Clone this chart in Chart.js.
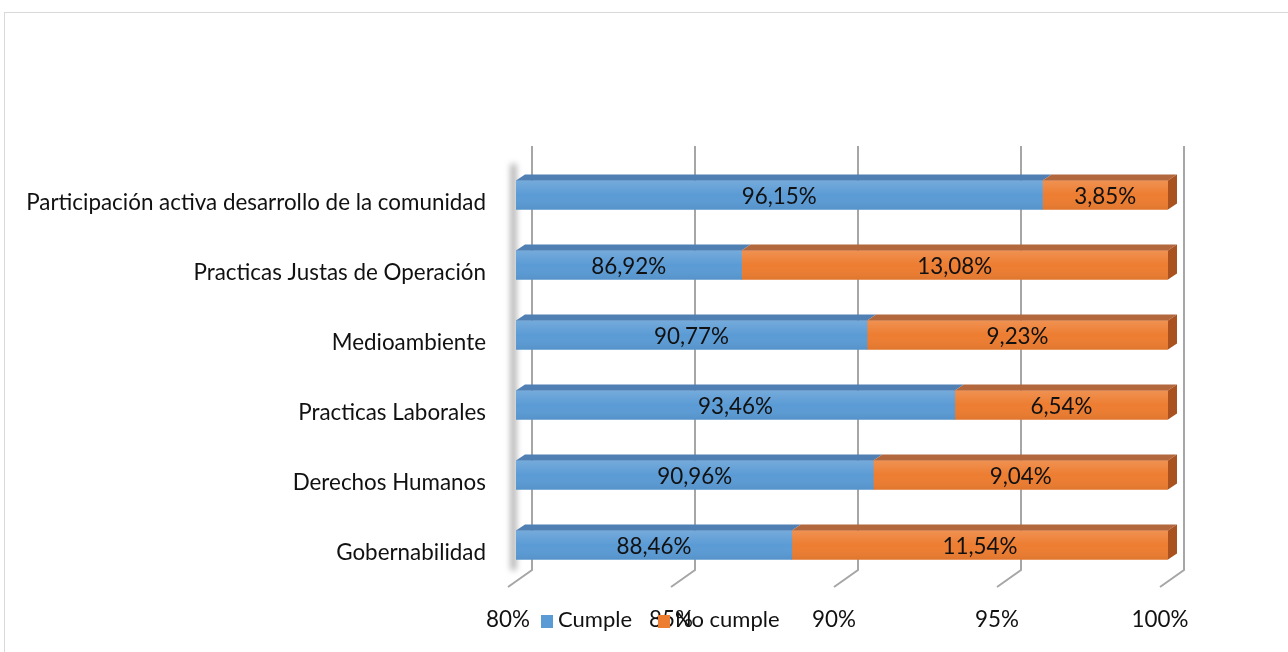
<!DOCTYPE html>
<html lang="es">
<head>
    <meta charset="UTF-8">
    <title>Cumplimiento por materia</title>
    <script src="https://cdn.jsdelivr.net/npm/chart.js"></script>
    <style>
        html, body {
            margin: 0;
            padding: 0;
            background: #fff;
            overflow: hidden;
        }
        #wrap {
            position: relative;
            width: 1288px;
            height: 652px;
        }
        #frame {
            position: absolute;
            left: 4px;
            top: 12px;
            width: 1300px;
            height: 700px;
            border: 1px solid #d9d9d9;
        }
        #chart {
            position: absolute;
            left: 0;
            top: 0;
        }
        .legend {
            position: absolute;
            top: 606px;
            font-family: 'Lato', sans-serif;
            font-size: 22px;
            color: #111;
            line-height: 26px;
            white-space: nowrap;
        }
        .legend i {
            display: inline-block;
            width: 12px;
            height: 13px;
            margin-right: 5px;
            vertical-align: -1px;
        }
    </style>
</head>
<body>
<div id="wrap">
    <div id="frame"></div>
    <canvas id="chart" width="1288" height="652"></canvas>
    <div id="legend"></div>
</div>

<script>
    // data
    const categories = [
        'Participación activa desarrollo de la comunidad',
        'Practicas Justas de Operación',
        'Medioambiente',
        'Practicas Laborales',
        'Derechos Humanos',
        'Gobernabilidad'
    ];
    const cumple = [96.15, 86.92, 90.77, 93.46, 90.96, 88.46];
    const noCumple = [3.85, 13.08, 9.23, 6.54, 9.04, 11.54];
    const seriesNames = ['Cumple', 'No cumple'];
    const xTicks = [80, 85, 90, 95, 100];

    const FONT = "'Lato', sans-serif";
    const colors = {
        front: ['#5b9bd5', '#ed7d31'],
        top: ['#4f7fb3', '#b3673d'],
        side: '#a9521f'
    };
    const DX = 9, DY = 6;

    const fmt = v => v.toFixed(2).replace('.', ',') + '%';

    // back wall grid, floor lines and left wall shadow
    const wallPlugin = {
        id: 'wall',
        beforeDatasetsDraw(chart) {
            const { ctx, chartArea } = chart;
            const x = chart.scales.x;
            ctx.save();
            ctx.filter = 'blur(3px)';
            ctx.fillStyle = 'rgba(70,70,70,0.5)';
            ctx.fillRect(chartArea.left - 5, chartArea.top + 4, 5, chartArea.bottom - chartArea.top - 14);
            ctx.restore();

            ctx.save();
            ctx.strokeStyle = '#a6a6a6';
            ctx.lineWidth = 2;
            xTicks.forEach(t => {
                const px = Math.round(x.getPixelForValue(t)) + 16;
                ctx.beginPath();
                ctx.moveTo(px, 146);
                ctx.lineTo(px, 570);
                ctx.lineTo(px - 24, 587);
                ctx.stroke();
            });
            ctx.restore();
        }
    };

    // 3D faces, shading and value labels
    const barPlugin = {
        id: 'bars3d',
        afterDatasetsDraw(chart) {
            const { ctx, chartArea } = chart;
            chart.data.datasets.forEach((ds, di) => {
                const meta = chart.getDatasetMeta(di);
                meta.data.forEach((bar, i) => {
                    const { x, y, base, height } = bar.getProps(['x', 'y', 'base', 'height'], true);
                    const L = Math.max(Math.min(x, base), chartArea.left);
                    const R = Math.min(Math.max(x, base), chartArea.right);
                    const top = y - height / 2;
                    const bot = y + height / 2;

                    ctx.save();
                    const g = ctx.createLinearGradient(0, top, 0, bot);
                    g.addColorStop(0, 'rgba(255,255,255,0.16)');
                    g.addColorStop(0.5, 'rgba(255,255,255,0.0)');
                    g.addColorStop(1, 'rgba(0,0,0,0.06)');
                    ctx.fillStyle = g;
                    ctx.fillRect(L, top, R - L, height);

                    ctx.fillStyle = colors.top[di];
                    ctx.beginPath();
                    ctx.moveTo(L, top);
                    ctx.lineTo(R, top);
                    ctx.lineTo(R + DX, top - DY);
                    ctx.lineTo(L + DX, top - DY);
                    ctx.closePath();
                    ctx.fill();

                    if (di === chart.data.datasets.length - 1) {
                        ctx.fillStyle = colors.side;
                        ctx.beginPath();
                        ctx.moveTo(R, top);
                        ctx.lineTo(R + DX, top - DY);
                        ctx.lineTo(R + DX, bot - DY);
                        ctx.lineTo(R, bot);
                        ctx.closePath();
                        ctx.fill();
                    }

                    ctx.fillStyle = '#111';
                    ctx.font = '22.4px ' + FONT;
                    ctx.textAlign = 'center';
                    ctx.textBaseline = 'middle';
                    ctx.fillText(fmt(ds.data[i]), (L + R) / 2, y + 2);
                    ctx.restore();
                });
            });
        }
    };

    new Chart(document.getElementById('chart'), {
        type: 'bar',
        data: {
            labels: categories,
            datasets: [
                { label: seriesNames[0], data: cumple, backgroundColor: colors.front[0], barThickness: 29 },
                { label: seriesNames[1], data: noCumple, backgroundColor: colors.front[1], barThickness: 29 }
            ]
        },
        options: {
            responsive: false,
            animation: false,
            indexAxis: 'y',
            layout: { padding: { top: 160, right: 120, bottom: 12, left: 0 } },
            plugins: {
                legend: { display: false },
                tooltip: { enabled: false }
            },
            scales: {
                x: {
                    stacked: true,
                    min: 80,
                    max: 100,
                    afterFit: s => { s.height = 60; },
                    afterBuildTicks: s => { s.ticks = xTicks.map(v => ({ value: v })); },
                    grid: { display: false, drawTicks: false },
                    border: { display: false },
                    ticks: {
                        padding: 26,
                        labelOffset: -8,
                        color: '#111',
                        font: { family: FONT, size: 22.4 },
                        callback: v => v + '%'
                    }
                },
                y: {
                    stacked: true,
                    afterFit: s => { s.width = 516; },
                    grid: { display: false, drawTicks: false },
                    border: { display: false },
                    ticks: {
                        padding: 30,
                        labelOffset: 8,
                        color: '#111',
                        font: { family: FONT, size: 22.4 }
                    }
                }
            }
        },
        plugins: [wallPlugin, barPlugin]
    });

    // legend laid over the axis labels, as in the original
    const legendPos = [541, 658];
    const legendEl = document.getElementById('legend');
    seriesNames.forEach((name, i) => {
        const d = document.createElement('div');
        d.className = 'legend';
        d.style.left = legendPos[i] + 'px';
        d.innerHTML = '<i style="background:' + colors.front[i] + '"></i>' + name;
        legendEl.appendChild(d);
    });
</script>
</body>
</html>
